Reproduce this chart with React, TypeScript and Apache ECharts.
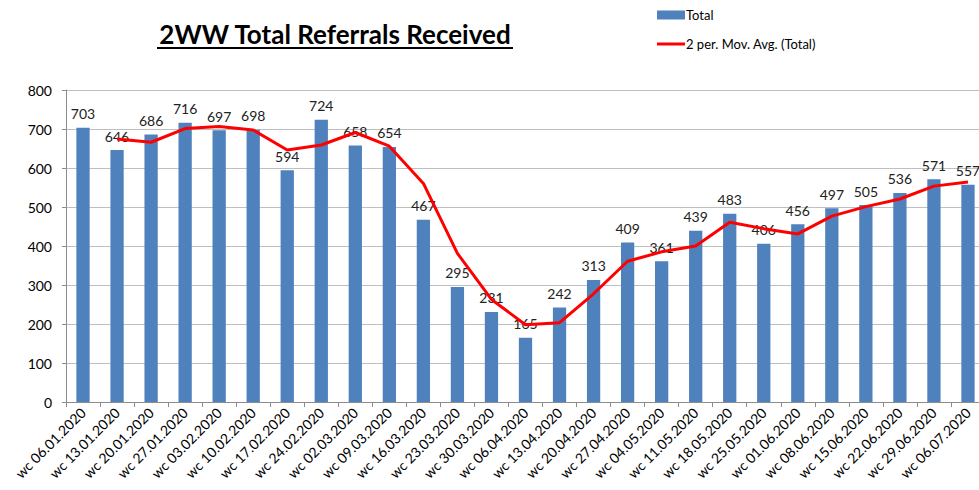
import React, { useEffect, useRef } from "react";
import * as echarts from "echarts";

const categories = [
  "wc 06.01.2020", "wc 13.01.2020", "wc 20.01.2020", "wc 27.01.2020", "wc 03.02.2020",
  "wc 10.02.2020", "wc 17.02.2020", "wc 24.02.2020", "wc 02.03.2020", "wc 09.03.2020",
  "wc 16.03.2020", "wc 23.03.2020", "wc 30.03.2020", "wc 06.04.2020", "wc 13.04.2020",
  "wc 20.04.2020", "wc 27.04.2020", "wc 04.05.2020", "wc 11.05.2020", "wc 18.05.2020",
  "wc 25.05.2020", "wc 01.06.2020", "wc 08.06.2020", "wc 15.06.2020", "wc 22.06.2020",
  "wc 29.06.2020", "wc 06.07.2020",
];

const totals = [
  703, 646, 686, 716, 697, 698, 594, 724, 658, 654, 467, 295, 231, 165, 242,
  313, 409, 361, 439, 483, 406, 456, 497, 505, 536, 571, 557,
];

const movingAvg = [
  null, 674.5, 666, 701, 706.5, 697.5, 646, 659, 691, 656, 560.5, 381, 263, 198, 203.5,
  277.5, 361, 385, 400, 461, 444.5, 431, 476.5, 501, 520.5, 553.5, 564,
];

const yTicks = { min: 0, max: 800, interval: 100 };

const FONT = "Lato, 'Open Sans', sans-serif";

export default function App() {
  const ref = useRef<HTMLDivElement>(null);
  useEffect(() => {
    if (!ref.current) return;
    const chart = echarts.init(ref.current, undefined, { renderer: "svg" });
    chart.setOption({
      animation: false,
      backgroundColor: "#ffffff",
      textStyle: { fontFamily: FONT },
      graphic: [
        {
          type: "text",
          x: 335,
          y: 34,
          style: {
            text: "2WW Total Referrals Received",
            font: "bold 26px " + FONT,
            fill: "#000000",
            textAlign: "center",
            textVerticalAlign: "middle",
          },
        },
        {
          type: "line",
          shape: { x1: 157, y1: 48, x2: 513, y2: 48 },
          style: { stroke: "#000000", lineWidth: 2 },
        },
      ],
      legend: {
        orient: "vertical",
        left: 652,
        top: 2,
        itemWidth: 28,
        itemHeight: 9,
        itemGap: 13,
        textStyle: { fontSize: 13, color: "#000000", fontFamily: FONT, lineHeight: 16, padding: [0, 0, 0, -4] },
        data: [
          { name: "Total", icon: "rect" },
          { name: "2 per. Mov. Avg. (Total)", icon: "path://M0,0 M28,9 M0,3 L28,3 L28,6 L0,6 Z" },
        ],
      },
      grid: {
        left: 66,
        top: 90,
        bottom: 88,
        right: -6,
        outerBoundsMode: "none",
        containLabel: false,
      },
      xAxis: {
        type: "category",
        data: categories,
        boundaryGap: true,
        axisLine: { show: true, lineStyle: { color: "#8c8c8c", width: 1 } },
        axisTick: { show: true, alignWithLabel: false, length: 5, lineStyle: { color: "#8c8c8c" } },
        axisLabel: {
          rotate: 45,
          interval: 0,
          fontSize: 14,
          color: "#000000",
          fontFamily: FONT,
          margin: 8,
        },
      },
      yAxis: {
        type: "value",
        min: yTicks.min,
        max: yTicks.max,
        interval: yTicks.interval,
        axisLine: { show: true, lineStyle: { color: "#8c8c8c", width: 1 } },
        axisTick: { show: true, length: 4, lineStyle: { color: "#8c8c8c" } },
        axisLabel: { fontSize: 14, color: "#000000", fontFamily: FONT, margin: 14 },
        splitLine: { show: true, lineStyle: { color: "#bfbfbf", width: 1 } },
      },
      series: [
        {
          name: "Total",
          type: "bar",
          data: totals,
          barWidth: "39%",
          itemStyle: { color: "#4F81BD" },
          label: {
            show: true,
            position: "top",
            distance: 7,
            fontSize: 14,
            color: "#222222",
            fontFamily: FONT,
          },
          z: 2,
        },
        {
          name: "2 per. Mov. Avg. (Total)",
          type: "line",
          data: movingAvg,
          symbol: "none",
          connectNulls: false,
          lineStyle: { color: "#FF0000", width: 3 },
          itemStyle: { color: "#FF0000" },
          z: 3,
        },
      ],
    });
    return () => chart.dispose();
  }, []);
  return <div ref={ref} style={{ width: 979, height: 490, position: "absolute", left: 0, top: 0 }} />;
}
